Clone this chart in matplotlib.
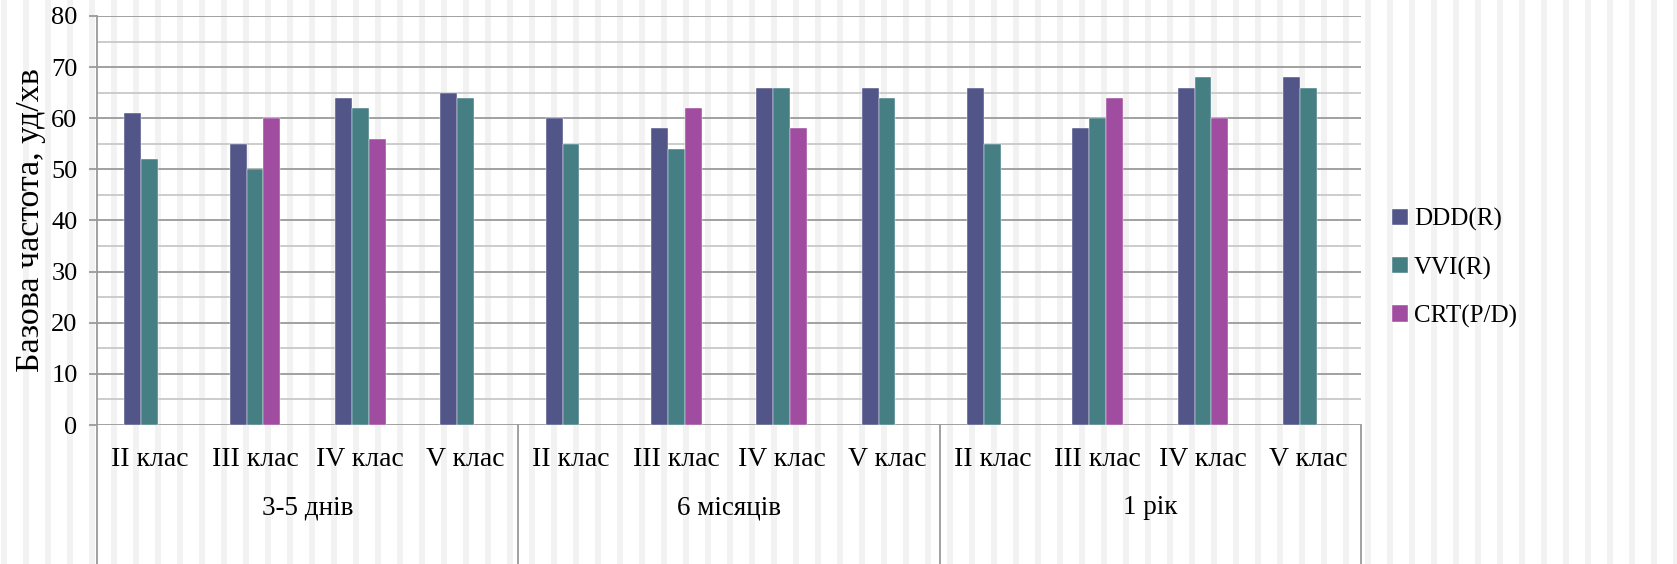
import numpy as np
import matplotlib
matplotlib.use("Agg")
import matplotlib.pyplot as plt
from matplotlib.lines import Line2D
from matplotlib.transforms import blended_transform_factory

plt.rcParams["font.family"] = ["Liberation Serif", "DejaVu Serif"]

# Heart rate by NYHA class at three follow-up points
periods = ["3-5 днів", "6 місяців", "1 рік"]
classes = ["II клас", "III клас", "IV клас", "V клас"]
series = ["DDD(R)", "VVI(R)", "CRT(P/D)"]

ddd = [61, 55, 64, 65, 60, 58, 66, 66, 66, 58, 66, 68]
vvi = [52, 50, 62, 64, 55, 54, 66, 64, 55, 60, 68, 66]
crt = [np.nan, 60, 56, np.nan, np.nan, 62, 58, np.nan, np.nan, 64, 60, np.nan]

colors = ["#525588", "#457f84", "#a04ca0"]

W, H = 1677, 564
fig = plt.figure(figsize=(W / 100, H / 100), dpi=100)

# faint vertical stripe background
bg = fig.add_axes([0, 0, 1, 1], zorder=-1)
bg.set_xlim(0, W)
bg.set_ylim(0, 1)
bg.axis("off")
for x0 in range(1, W, 22):
    bg.axvspan(x0, x0 + 6, color="#f2f2f2", lw=0)

ax_left, ax_bottom = 97 / W, 1 - 425 / H
ax_w, ax_h = (1361 - 97) / W, (425 - 16) / H
ax = fig.add_axes([ax_left, ax_bottom, ax_w, ax_h])
ax.set_facecolor("none")

n = len(periods) * len(classes)
x = np.arange(n)
w = 0.16
handles = []
for j, (vals, c, name) in enumerate(zip([ddd, vvi, crt], colors, series)):
    b = ax.bar(x + (j - 1) * w, vals, width=w, color=c, label=name,
               edgecolor="#ffffff", linewidth=0.3, zorder=3)
    handles.append(b)

ax.set_xlim(-0.5, n - 0.5)
ax.set_ylim(0, 80)
ax.set_yticks(np.arange(0, 81, 10))
ax.set_yticks(np.arange(5, 80, 10), minor=True)
ax.grid(axis="y", which="major", color="#9a9a9a", lw=1.3, zorder=1)
ax.grid(axis="y", which="minor", color="#c8c8c8", lw=1.3, zorder=1)
ax.tick_params(axis="y", which="major", length=6, width=1.3, color="#9a9a9a",
               labelsize=19, pad=8)
ax.tick_params(axis="y", which="minor", length=0)
for s in ["top", "right", "bottom", "left"]:
    ax.spines[s].set_visible(False)

ax.set_xticks(x)
ax.set_xticklabels(classes * len(periods))
ax.tick_params(axis="x", length=0, labelsize=20, pad=16)

ax.set_ylabel("Базова частота, уд/хв", fontsize=24.5)
ax.yaxis.set_label_coords(-0.040, 0.5)

# group separators and period labels below the axis
tr = blended_transform_factory(ax.transData, fig.transFigure)
for k in range(len(periods) + 1):
    xs = k * len(classes) - 0.5
    top = 1 - 16 / H if k == 0 else ax_bottom
    fig.add_artist(Line2D([xs, xs], [top, 0], transform=tr,
                          color="#9a9a9a", lw=1.3))
for k, p in enumerate(periods):
    xc = k * len(classes) + (len(classes) - 1) / 2
    ax.text(xc, 1 - 508 / H, p, transform=tr, ha="center", va="center",
            fontsize=19.5)

fig.legend(handles=handles, loc="center left",
           bbox_to_anchor=(1392 / W, 1 - 268 / H), frameon=False,
           fontsize=18, handlelength=0.62, handleheight=0.62,
           handletextpad=0.25, labelspacing=1.0, borderpad=0,
           borderaxespad=0)

fig.savefig("out.png", dpi=100)
